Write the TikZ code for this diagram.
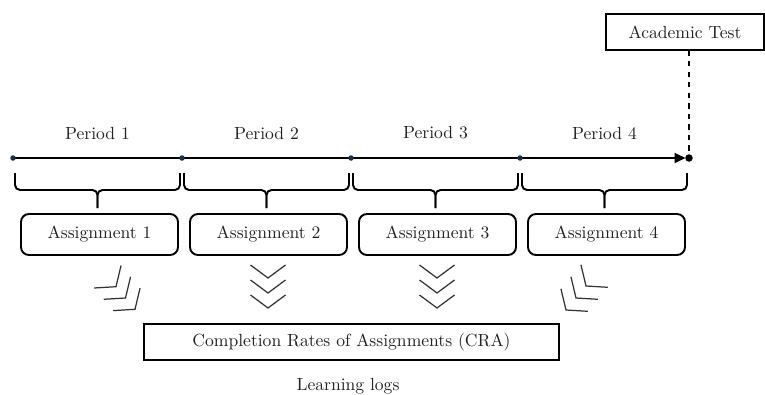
\documentclass[tikz,border=0pt]{standalone}
\usepackage{tikz}
\usetikzlibrary{arrows.meta, positioning, calc}
\definecolor{tickBlue}{HTML}{1B3045}
\definecolor{textGray}{HTML}{222222}

\tikzset{
  every node/.style={font=\fontsize{10}{12}\selectfont, text=textGray},
  taskbox/.style={draw, line width=1.1pt, rounded corners=0.16cm,
    minimum width=3.14cm, minimum height=0.82cm},
  thinbox/.style={draw, line width=0.6pt, minimum height=0.72cm},
  bracepath/.style={line width=1.1pt, rounded corners=0.1cm},
  pics/chev/.style={code={
    \draw[line width=0.7pt, black!80] (-0.35,0.26) -- (0,0) -- (0.35,0.26);
  }},
}

\begin{document}
\begin{tikzpicture}
    \useasboundingbox (0,0) rectangle (15.3,-7.88);
    % time axis: one tick per period, test at the end
    \foreach \i in {0,...,4} \coordinate (t\i) at (0.26+\i*3.38, -3.16);
    \draw[line width=1.1pt, -{Triangle[length=0.22cm, width=0.2cm]}, shorten >=0.07cm] (t0) -- (t4);
    \foreach \i in {0,...,3} \fill[tickBlue] (t\i) circle (0.055);
    \fill (t4) circle (0.075);

    \node[thinbox, minimum width=3.16cm] (test) at (13.7,-0.64) {Academic Test};
    \draw[dashed, line width=0.9pt] (test.south -| t4) -- (t4);

    % periods, braces and assignments
    \foreach \i [count=\n] in {0,...,3} {
      \node (p\n) at (1.95+\i*3.38, -2.66) {Period \n};
      \pgfmathsetmacro\xl{0.30+\i*3.38}
      \pgfmathsetmacro\xr{\xl+3.30}
      \pgfmathsetmacro\xm{\xl+1.65}
      \draw[bracepath] (\xl,-3.46) -- (\xl,-3.8) -- (\xm,-3.8) -- (\xm,-4.16);
      \draw[bracepath] (\xr,-3.46) -- (\xr,-3.8) -- (\xm,-3.8) -- (\xm,-4.16);
      \node[taskbox] (a\n) at (1.99+\i*3.38, -4.69) {Assignment \n};
    }

    % chevrons towards the CRA box
    \foreach \k in {0,1,2} {
      \pic[rotate=40] at (2.32+\k*0.19, -5.734-\k*0.226) {chev};
      \pic at (5.36, -5.56-\k*0.3) {chev};
      \pic at (8.74, -5.56-\k*0.3) {chev};
      \pic[rotate=-40] at (11.72-\k*0.2, -5.72-\k*0.24) {chev};
    }

    \node[thinbox, minimum width=8.3cm] (cra) at (7.03,-6.84) {Completion Rates of Assignments (CRA)};
    \node[anchor=base] (logs) at (6.96,-7.8) {Learning logs};
\end{tikzpicture}
\end{document}
